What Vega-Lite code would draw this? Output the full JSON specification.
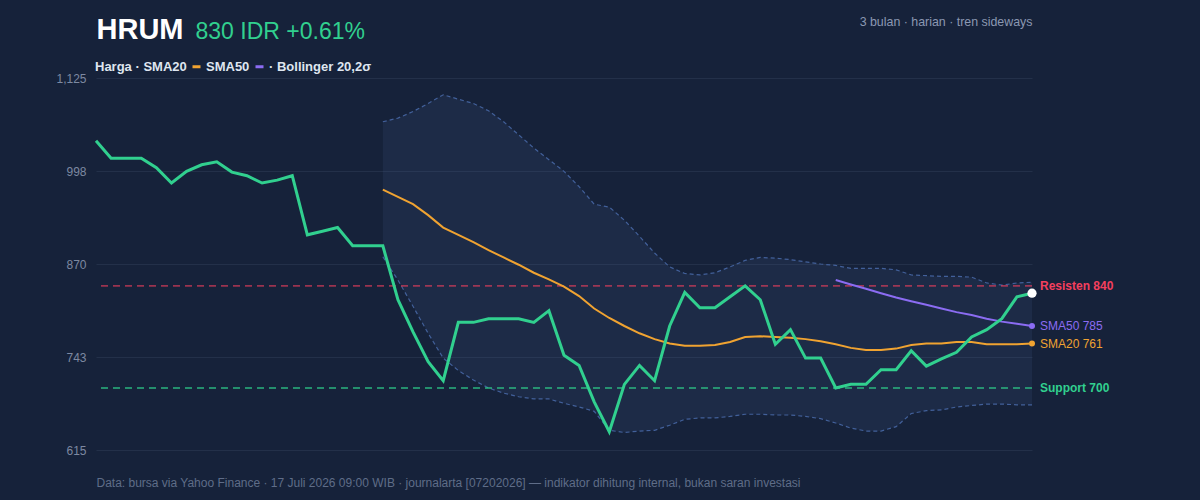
{
  "$schema": "https://vega.github.io/schema/vega-lite/v6.json",
  "width": 936,
  "height": 372,
  "autosize": {"type": "none"},
  "padding": {"left": 96, "top": 78, "right": 168, "bottom": 50},
  "background": "#16223a",
  "config": {"view": {"stroke": null}, "font": "Liberation Sans"},
  "datasets": {
    "px": [
      {"i": 0, "price": 1039}, {"i": 1, "price": 1015}, {"i": 2, "price": 1015}, {"i": 3, "price": 1015},
      {"i": 4, "price": 1002}, {"i": 5, "price": 981}, {"i": 6, "price": 997}, {"i": 7, "price": 1006},
      {"i": 8, "price": 1010}, {"i": 9, "price": 996}, {"i": 10, "price": 991}, {"i": 11, "price": 981},
      {"i": 12, "price": 985}, {"i": 13, "price": 991}, {"i": 14, "price": 910}, {"i": 15, "price": 915},
      {"i": 16, "price": 920}, {"i": 17, "price": 895}, {"i": 18, "price": 895},
      {"i": 19, "price": 895, "sma20": 972, "upper": 1065, "lower": 880},
      {"i": 20, "price": 821, "sma20": 962, "upper": 1070, "lower": 848},
      {"i": 21, "price": 777, "sma20": 952, "upper": 1079, "lower": 812},
      {"i": 22, "price": 736, "sma20": 937, "upper": 1090, "lower": 775},
      {"i": 23, "price": 710, "sma20": 920, "upper": 1102, "lower": 741},
      {"i": 24, "price": 790, "sma20": 910, "upper": 1096, "lower": 724},
      {"i": 25, "price": 790, "sma20": 900, "upper": 1090, "lower": 711},
      {"i": 26, "price": 795, "sma20": 889, "upper": 1080, "lower": 700},
      {"i": 27, "price": 795, "sma20": 879, "upper": 1065, "lower": 693},
      {"i": 28, "price": 795, "sma20": 869, "upper": 1047, "lower": 688},
      {"i": 29, "price": 790, "sma20": 858, "upper": 1029, "lower": 685},
      {"i": 30, "price": 806, "sma20": 849, "upper": 1013, "lower": 685},
      {"i": 31, "price": 745, "sma20": 839, "upper": 997, "lower": 679},
      {"i": 32, "price": 731, "sma20": 826, "upper": 976, "lower": 674},
      {"i": 33, "price": 681, "sma20": 809, "upper": 952, "lower": 668},
      {"i": 34, "price": 640, "sma20": 796, "upper": 948, "lower": 642},
      {"i": 35, "price": 705, "sma20": 785, "upper": 930, "lower": 639},
      {"i": 36, "price": 731, "sma20": 775, "upper": 908, "lower": 641},
      {"i": 37, "price": 710, "sma20": 767, "upper": 885, "lower": 642},
      {"i": 38, "price": 785, "sma20": 761, "upper": 866, "lower": 649},
      {"i": 39, "price": 831, "sma20": 758, "upper": 857, "lower": 657},
      {"i": 40, "price": 810, "sma20": 758, "upper": 855, "lower": 659},
      {"i": 41, "price": 810, "sma20": 759, "upper": 858, "lower": 659},
      {"i": 42, "price": 825, "sma20": 763, "upper": 866, "lower": 661},
      {"i": 43, "price": 840, "sma20": 770, "upper": 875, "lower": 664},
      {"i": 44, "price": 821, "sma20": 771, "upper": 879, "lower": 664},
      {"i": 45, "price": 760, "sma20": 770, "upper": 878, "lower": 663},
      {"i": 46, "price": 780, "sma20": 769, "upper": 876, "lower": 663},
      {"i": 47, "price": 741, "sma20": 767, "upper": 873, "lower": 661},
      {"i": 48, "price": 741, "sma20": 764, "upper": 870, "lower": 658},
      {"i": 49, "price": 700, "sma20": 760, "upper": 868, "lower": 652, "sma50": 848},
      {"i": 50, "price": 705, "sma20": 755, "upper": 864, "lower": 645, "sma50": 842},
      {"i": 51, "price": 705, "sma20": 752, "upper": 864, "lower": 641, "sma50": 836},
      {"i": 52, "price": 725, "sma20": 752, "upper": 864, "lower": 641, "sma50": 830},
      {"i": 53, "price": 725, "sma20": 754, "upper": 862, "lower": 647, "sma50": 824},
      {"i": 54, "price": 751, "sma20": 759, "upper": 855, "lower": 665, "sma50": 819},
      {"i": 55, "price": 730, "sma20": 761, "upper": 854, "lower": 669, "sma50": 814},
      {"i": 56, "price": 740, "sma20": 761, "upper": 853, "lower": 670, "sma50": 809},
      {"i": 57, "price": 749, "sma20": 763, "upper": 853, "lower": 674, "sma50": 804},
      {"i": 58, "price": 770, "sma20": 763, "upper": 852, "lower": 676, "sma50": 800},
      {"i": 59, "price": 780, "sma20": 760, "upper": 844, "lower": 678, "sma50": 795},
      {"i": 60, "price": 795, "sma20": 760, "upper": 841, "lower": 678, "sma50": 791},
      {"i": 61, "price": 825, "sma20": 760, "upper": 844, "lower": 677, "sma50": 788},
      {"i": 62, "price": 830, "sma20": 761, "upper": 845, "lower": 677, "sma50": 785}
    ],
    "levels": [
      {"name": "Resisten", "label": "Resisten 840", "v": 840},
      {"name": "Support", "label": "Support 700", "v": 700}
    ]
  },
  "resolve": {"axis": {"x": "independent", "y": "independent"}},
  "layer": [
    {
      "data": {"name": "px"},
      "transform": [{"filter": "isValid(datum.upper)"}],
      "mark": {"type": "area", "fill": "#4a6aa0", "fillOpacity": 0.13},
      "encoding": {
        "x": {"field": "i", "type": "quantitative", "scale": {"domain": [0, 62], "nice": false, "zero": false},
          "axis": {"orient": "top", "title": "3 bulan · harian · tren sideways", "labels": false, "ticks": false, "domain": false, "grid": false,
            "titleX": 936, "titleY": -52.5, "titleAlign": "right", "titleAngle": 0, "titleBaseline": "alphabetic",
            "titleFontSize": 12.4, "titleFontWeight": "normal", "titleColor": "#8b98b2", "titleFont": "Liberation Sans"}},
        "y": {"field": "lower", "type": "quantitative", "scale": {"domain": [615, 1125], "nice": false, "zero": false},
          "axis": {"orient": "left", "values": [615, 742.5, 870, 997.5, 1125], "format": ",.0f",
            "labelColor": "#7d89a1", "labelFontSize": 12, "labelFont": "Liberation Sans", "labelPadding": 10,
            "ticks": false, "tickSize": 0, "domain": false, "grid": true, "gridColor": "#233049", "gridWidth": 1,
            "title": "HRUM", "titleX": 0, "titleY": -39.7, "titleAngle": 0, "titleAlign": "left", "titleBaseline": "alphabetic",
            "titleFontSize": 29, "titleFontWeight": "bold", "titleColor": "#ffffff", "titleFont": "Liberation Sans"}},
        "y2": {"field": "upper"}
      }
    },
    {
      "data": {"name": "px"},
      "transform": [{"filter": "isValid(datum.upper)"}],
      "mark": {"type": "line", "stroke": "#42609a", "strokeWidth": 1.2, "strokeDash": [4, 3]},
      "encoding": {
        "x": {"field": "i", "type": "quantitative", "axis": null},
        "y": {"field": "upper", "type": "quantitative", "scale": {"domain": [615, 1125], "nice": false, "zero": false}, "axis": null}
      }
    },
    {
      "data": {"name": "px"},
      "transform": [{"filter": "isValid(datum.lower)"}],
      "mark": {"type": "line", "stroke": "#42609a", "strokeWidth": 1.2, "strokeDash": [4, 3]},
      "encoding": {
        "x": {"field": "i", "type": "quantitative", "axis": null},
        "y": {"field": "lower", "type": "quantitative", "scale": {"domain": [615, 1125], "nice": false, "zero": false}, "axis": null}
      }
    },
    {
      "data": {"name": "levels"},
      "transform": [{"filter": "datum.name === 'Resisten'"}],
      "mark": {"type": "rule", "stroke": "#f43f5e", "strokeOpacity": 0.6, "strokeWidth": 1.6, "strokeDash": [7, 5]},
      "encoding": {
        "y": {"field": "v", "type": "quantitative", "scale": {"domain": [615, 1125], "nice": false, "zero": false}, "axis": null}
      }
    },
    {
      "data": {"name": "levels"},
      "transform": [{"filter": "datum.name === 'Support'"}],
      "mark": {"type": "rule", "stroke": "#2ecc8a", "strokeOpacity": 0.85, "strokeWidth": 1.6, "strokeDash": [7, 5]},
      "encoding": {
        "y": {"field": "v", "type": "quantitative", "scale": {"domain": [615, 1125], "nice": false, "zero": false}, "axis": null}
      }
    },
    {
      "data": {"name": "px"},
      "transform": [
        {"fold": ["sma20", "sma50"], "as": ["series", "value"]},
        {"filter": "isValid(datum.value)"}
      ],
      "mark": {"type": "line", "strokeWidth": 2},
      "encoding": {
        "x": {"field": "i", "type": "quantitative", "axis": null},
        "y": {"field": "value", "type": "quantitative", "scale": {"domain": [615, 1125], "nice": false, "zero": false}, "axis": null},
        "color": {"field": "series", "type": "nominal",
          "scale": {"domain": ["Harga", "sma20", "sma50"], "range": ["rgba(0,0,0,0)", "#f0a331", "#8b6cf2"]},
          "legend": {"orient": "none", "legendX": -17, "legendY": -18, "direction": "horizontal", "title": null,
            "symbolType": "stroke", "symbolSize": 64, "symbolStrokeWidth": 3, "padding": 0,
            "labelExpr": "datum.value === 'Harga' ? 'Harga · SMA20' : (datum.value === 'sma20' ? 'SMA50' : '· Bollinger 20,2σ')",
            "labelFont": "Liberation Sans", "labelFontSize": 13, "labelFontWeight": "bold", "labelColor": "#dfe6f0",
            "labelOffset": 3, "columnPadding": -1, "labelLimit": 300}}
      }
    },
    {
      "data": {"name": "px"},
      "mark": {"type": "line", "stroke": "#31d08f", "strokeWidth": 3},
      "encoding": {
        "x": {"field": "i", "type": "quantitative",
          "axis": {"orient": "bottom", "title": "Data: bursa via Yahoo Finance · 17 Juli 2026 09:00 WIB · journalarta [07202026] — indikator dihitung internal, bukan saran investasi",
            "labels": false, "ticks": false, "domain": false, "grid": false,
            "titleX": 0, "titleY": 36, "titleAlign": "left", "titleAngle": 0, "titleBaseline": "alphabetic",
            "titleFontSize": 12, "titleFontWeight": "normal", "titleColor": "#5f6d88", "titleFont": "Liberation Sans", "titleLimit": 1000}},
        "y": {"field": "price", "type": "quantitative", "scale": {"domain": [615, 1125], "nice": false, "zero": false},
          "axis": {"orient": "right", "labels": false, "ticks": false, "domain": false, "grid": false,
            "title": "830 IDR +0.61%", "titleX": -837, "titleY": -39.7, "titleAngle": 0, "titleAlign": "left", "titleBaseline": "alphabetic",
            "titleFontSize": 23, "titleFontWeight": "normal", "titleColor": "#31d08f", "titleFont": "Liberation Sans"}}
      }
    },
    {
      "data": {"name": "px"},
      "transform": [{"filter": "datum.i === 62"}],
      "mark": {"type": "point", "filled": true, "fill": "#ffffff", "opacity": 1, "size": 85, "strokeWidth": 0},
      "encoding": {
        "x": {"field": "i", "type": "quantitative", "axis": null},
        "y": {"field": "price", "type": "quantitative", "scale": {"domain": [615, 1125], "nice": false, "zero": false}, "axis": null}
      }
    },
    {
      "data": {"name": "px"},
      "transform": [{"filter": "datum.i === 62"}],
      "mark": {"type": "point", "filled": true, "fill": "#8b6cf2", "opacity": 1, "size": 36, "strokeWidth": 0},
      "encoding": {
        "x": {"field": "i", "type": "quantitative", "axis": null},
        "y": {"field": "sma50", "type": "quantitative", "scale": {"domain": [615, 1125], "nice": false, "zero": false}, "axis": null}
      }
    },
    {
      "data": {"name": "px"},
      "transform": [{"filter": "datum.i === 62"}],
      "mark": {"type": "point", "filled": true, "fill": "#f0a331", "opacity": 1, "size": 36, "strokeWidth": 0},
      "encoding": {
        "x": {"field": "i", "type": "quantitative", "axis": null},
        "y": {"field": "sma20", "type": "quantitative", "scale": {"domain": [615, 1125], "nice": false, "zero": false}, "axis": null}
      }
    },
    {
      "data": {"name": "px"},
      "transform": [{"filter": "datum.i === 62"}],
      "mark": {"type": "text", "align": "left", "baseline": "middle", "dx": 8, "fontSize": 12, "font": "Liberation Sans", "fill": "#8b6cf2"},
      "encoding": {
        "x": {"field": "i", "type": "quantitative", "axis": null},
        "y": {"field": "sma50", "type": "quantitative", "scale": {"domain": [615, 1125], "nice": false, "zero": false}, "axis": null},
        "text": {"value": "SMA50 785"}
      }
    },
    {
      "data": {"name": "px"},
      "transform": [{"filter": "datum.i === 62"}],
      "mark": {"type": "text", "align": "left", "baseline": "middle", "dx": 8, "fontSize": 12, "font": "Liberation Sans", "fill": "#f0a331"},
      "encoding": {
        "x": {"field": "i", "type": "quantitative", "axis": null},
        "y": {"field": "sma20", "type": "quantitative", "scale": {"domain": [615, 1125], "nice": false, "zero": false}, "axis": null},
        "text": {"value": "SMA20 761"}
      }
    },
    {
      "data": {"name": "levels"},
      "transform": [{"filter": "datum.name === 'Resisten'"}],
      "mark": {"type": "text", "align": "left", "baseline": "middle", "dx": 8, "fontSize": 12, "fontWeight": "bold", "font": "Liberation Sans", "fill": "#f43f5e"},
      "encoding": {
        "x": {"datum": 62, "type": "quantitative", "axis": null},
        "y": {"field": "v", "type": "quantitative", "scale": {"domain": [615, 1125], "nice": false, "zero": false}, "axis": null},
        "text": {"field": "label"}
      }
    },
    {
      "data": {"name": "levels"},
      "transform": [{"filter": "datum.name === 'Support'"}],
      "mark": {"type": "text", "align": "left", "baseline": "middle", "dx": 8, "fontSize": 12, "fontWeight": "bold", "font": "Liberation Sans", "fill": "#31d08f"},
      "encoding": {
        "x": {"datum": 62, "type": "quantitative", "axis": null},
        "y": {"field": "v", "type": "quantitative", "scale": {"domain": [615, 1125], "nice": false, "zero": false}, "axis": null},
        "text": {"field": "label"}
      }
    }
  ]
}
